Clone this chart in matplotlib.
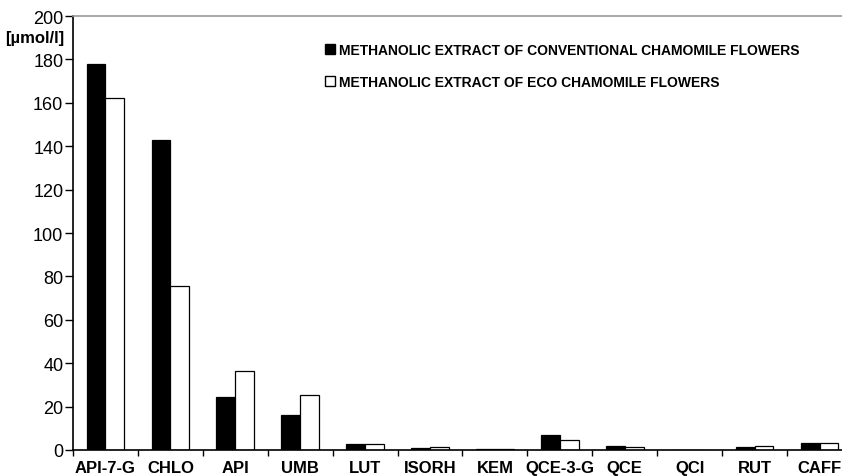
import matplotlib
matplotlib.use("Agg")
import matplotlib.pyplot as plt
import numpy as np
from matplotlib.patches import Patch

categories = ["API-7-G", "CHLO", "API", "UMB", "LUT", "ISORH", "KEM", "QCE-3-G", "QCE", "QCI", "RUT", "CAFF"]
conventional = [178, 143, 24.3, 16.1, 2.9, 0.9, 0.5, 6.8, 1.8, 0, 1.3, 3.4]
eco = [162, 75.7, 36.4, 25.2, 2.8, 1.5, 0.6, 4.6, 1.4, 0, 1.7, 3.1]
yticks = [0, 20, 40, 60, 80, 100, 120, 140, 160, 180, 200]
series_names = ["METHANOLIC EXTRACT OF CONVENTIONAL CHAMOMILE FLOWERS",
                "METHANOLIC EXTRACT OF ECO CHAMOMILE FLOWERS"]
unit_label = "[µmol/l]"

plt.rcParams['font.family'] = ['Liberation Sans', 'DejaVu Sans']

fig = plt.figure(figsize=(8.42, 4.77), dpi=100)
W, H = 842, 477
left, right, top, bottom = 73, 852, 17, 451
ax = fig.add_axes([left / W, 1 - bottom / H, (right - left) / W, (bottom - top) / H])

x = np.arange(len(categories))
bw = 0.29
ax.bar(x - bw / 2, conventional, bw, color="black", edgecolor="black", linewidth=0.9)
ax.bar(x + bw / 2, eco, bw, color="white", edgecolor="black", linewidth=0.9)

ax.set_xlim(-0.5, len(categories) - 0.5)
ax.set_ylim(0, 200)
ax.set_yticks(yticks)
ax.set_yticklabels([str(v) for v in yticks], fontsize=13)
ax.set_xticks(x)
ax.set_xticklabels(categories, fontsize=12, fontweight="bold")
ax.tick_params(axis="x", which="major", length=0, pad=7.5)
ax.set_xticks(np.arange(len(categories) + 1) - 0.5, minor=True)
ax.tick_params(axis="x", which="minor", length=4, width=1, direction="out")
ax.tick_params(axis="y", length=6, width=1, direction="out", pad=1)

ax.spines["right"].set_visible(False)
ax.spines["top"].set_color("#999999")
ax.spines["top"].set_linewidth(1.2)
ax.spines["left"].set_linewidth(1.2)
ax.spines["bottom"].set_linewidth(1.2)

ax.text(-0.011, 190, unit_label, transform=ax.get_yaxis_transform(), ha="right", va="center",
        fontsize=12, fontweight="bold")

handles = [Patch(facecolor="black", edgecolor="black"), Patch(facecolor="white", edgecolor="black")]
leg = ax.legend(handles, series_names, loc="upper left",
                bbox_to_anchor=((325 - left) / (right - left), 1 - (44 - top) / (bottom - top)),
                frameon=False, prop={"weight": "bold", "size": 10}, handlelength=0.7, handleheight=0.7,
                handletextpad=0.3, labelspacing=1.3, borderaxespad=0, borderpad=0)

fig.savefig("out.png", dpi=100, facecolor="white")
